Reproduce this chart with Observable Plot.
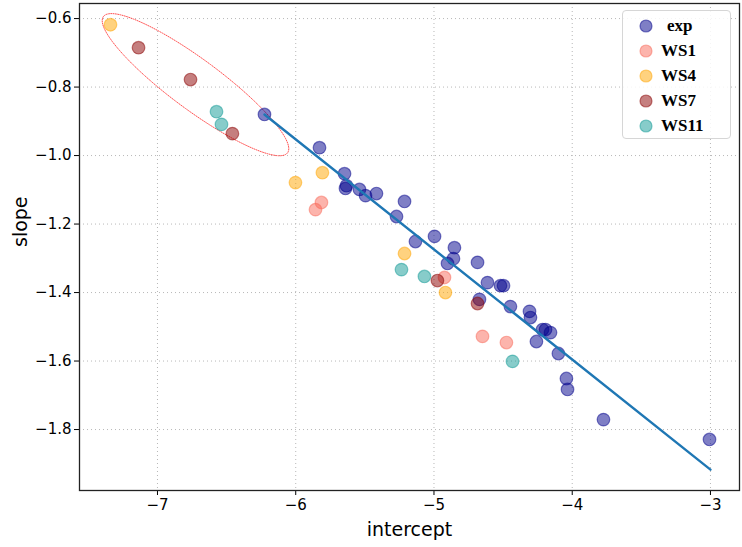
<!DOCTYPE html>
<html>
<head>
<meta charset="utf-8">
<script src="https://cdn.jsdelivr.net/npm/d3@7"></script>
<script src="https://cdn.jsdelivr.net/npm/@observablehq/plot@0.6"></script>
<style>
  html, body { margin: 0; padding: 0; background: #fff; }
  #wrap { position: relative; width: 742px; height: 547px; }
  #legend {
    position: absolute; left: 622px; top: 10px; width: 109px; height: 129px;
    background: rgba(255,255,255,0.85); border: 1px solid #d6d6d6; border-radius: 4px;
    box-sizing: border-box; font-family: "Liberation Serif", "Times New Roman", serif;
    font-weight: bold; font-size: 17px; color: #000;
  }
  #legend .row { position: absolute; left: 0; height: 20px; display: flex; align-items: center; }
  #legend svg { margin-left: 16px; margin-right: 8px; }
</style>
</head>
<body>
<div id="wrap"></div>
<script>
// ---- data ----
const seriesNames = ["exp", "WS1", "WS4", "WS7", "WS11"];
const seriesColors = ["#00008b", "#fa6a5a", "#ffa500", "#8b0000", "#0f9a96"];

const expIntercept = [-6.226, -5.828, -5.647, -5.633, -5.640, -5.539, -5.495, -5.416, -5.213, -5.271,
  -5.134, -4.996, -4.852, -4.859, -4.902, -4.685, -4.613, -4.519, -4.497, -4.671,
  -4.447, -4.309, -4.302, -4.215, -4.193, -4.157, -4.259, -4.100, -4.042, -4.034,
  -3.774, -3.007];
const expSlope = [-0.880, -0.977, -1.053, -1.088, -1.096, -1.099, -1.117, -1.111, -1.134, -1.178,
  -1.251, -1.236, -1.269, -1.301, -1.315, -1.312, -1.371, -1.380, -1.380, -1.420,
  -1.441, -1.455, -1.473, -1.508, -1.508, -1.517, -1.543, -1.578, -1.651, -1.683,
  -1.771, -1.829];

const ws1Intercept = [-5.857, -5.814, -4.924, -4.649, -4.476];
const ws1Slope = [-1.158, -1.137, -1.356, -1.528, -1.546];

const ws4Intercept = [-7.340, -6.002, -5.807, -5.213, -4.917];
const ws4Slope = [-0.618, -1.079, -1.050, -1.286, -1.400];

const ws7Intercept = [-7.137, -6.761, -6.458, -4.975, -4.685];
const ws7Slope = [-0.685, -0.778, -0.936, -1.365, -1.432];

const ws11Intercept = [-6.573, -6.537, -5.235, -5.069, -4.432];
const ws11Slope = [-0.872, -0.909, -1.333, -1.353, -1.601];

// fitted line end points
const fitIntercept = [-6.226, -3.0];
const fitSlope = [-0.880, -1.917];

// highlighted ellipse: center, major/minor half-axis vectors (data units)
const ellipseCenter = [-6.725, -0.793];
const ellipseMajor = [0.666, -0.199];
const ellipseMinor = [-0.108, -0.059];

const xTicks = [-7, -6, -5, -4, -3];
const yTicks = [-0.6, -0.8, -1.0, -1.2, -1.4, -1.6, -1.8];

// ---- build tables ----
const groups = [
  [expIntercept, expSlope], [ws1Intercept, ws1Slope], [ws4Intercept, ws4Slope],
  [ws7Intercept, ws7Slope], [ws11Intercept, ws11Slope]
];
const points = [];
groups.forEach(([xs, ys], g) => xs.forEach((x, i) => points.push({x, y: ys[i], s: seriesNames[g]})));
const fit = fitIntercept.map((x, i) => ({x, y: fitSlope[i]}));
const ell = d3.range(0, 361, 3).map(deg => {
  const t = deg * Math.PI / 180;
  return {
    x: ellipseCenter[0] + Math.cos(t) * ellipseMajor[0] + Math.sin(t) * ellipseMinor[0],
    y: ellipseCenter[1] + Math.cos(t) * ellipseMajor[1] + Math.sin(t) * ellipseMinor[1]
  };
});
const colorOf = Object.fromEntries(seriesNames.map((n, i) => [n, seriesColors[i]]));

const chart = Plot.plot({
  width: 742,
  height: 547,
  marginLeft: 79,
  marginRight: 3,
  marginTop: 3,
  marginBottom: 57,
  style: {fontFamily: "DejaVu Sans, sans-serif", fontSize: "15px", color: "#000", background: "#fff"},
  x: {domain: [-7.564, -2.79], ticks: xTicks, label: null},
  y: {domain: [-1.978, -0.556], ticks: yTicks, label: null},
  marks: [
    Plot.gridX(xTicks, {stroke: "#b8b8b8", strokeOpacity: 1, strokeWidth: 1, strokeDasharray: "1,3"}),
    Plot.gridY(yTicks, {stroke: "#b8b8b8", strokeOpacity: 1, strokeWidth: 1, strokeDasharray: "1,3"}),
    Plot.line(ell, {x: "x", y: "y", stroke: "#ff4040", strokeWidth: 0.9, strokeDasharray: "1,1.3", strokeOpacity: 1}),
    Plot.dot(points, {x: "x", y: "y", r: 6.3, fill: d => colorOf[d.s], stroke: d => colorOf[d.s],
      fillOpacity: 0.5, strokeOpacity: 0.5, strokeWidth: 1.2}),
    Plot.line(fit, {x: "x", y: "y", stroke: "#1f77b4", strokeWidth: 2.4}),
    Plot.axisX(xTicks, {tickSize: 5, tickPadding: 4, tickFormat: d3.format("d"), fontSize: 15, label: null}),
    Plot.axisY(yTicks, {tickSize: 5, tickPadding: 3, tickFormat: d3.format(".1f"), fontSize: 15, label: null}),
    Plot.frame({stroke: "#222", strokeWidth: 1.3}),
    Plot.text(["intercept"], {frameAnchor: "bottom", dy: 45, fontSize: 19, fill: "#000"}),
    Plot.text(["slope"], {frameAnchor: "left", dx: -59, rotate: -90, fontSize: 19, fill: "#000"})
  ]
});

const wrap = document.getElementById("wrap");
wrap.appendChild(chart);

// legend overlay
const legend = document.createElement("div");
legend.id = "legend";
seriesNames.forEach((name, i) => {
  const row = document.createElement("div");
  row.className = "row";
  row.style.top = (5 + i * 25) + "px";
  const c = seriesColors[i];
  row.innerHTML = `<svg width="14" height="14"><circle cx="7" cy="7" r="6" fill="${c}" fill-opacity="0.5" stroke="${c}" stroke-opacity="0.5" stroke-width="1.2"/></svg><span>${name}</span>`;
  if (name === "exp") row.querySelector("span").style.marginLeft = "6px";
  legend.appendChild(row);
});
wrap.appendChild(legend);
</script>
</body>
</html>
